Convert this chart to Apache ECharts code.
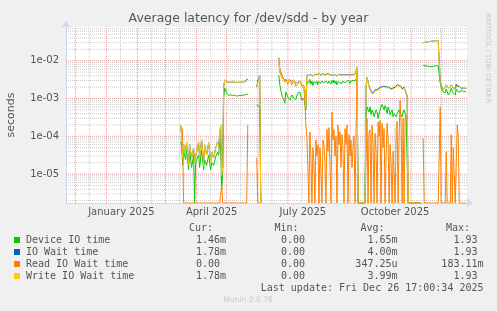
<!DOCTYPE html>
<html><head><meta charset="utf-8">
<script src="https://cdn.jsdelivr.net/npm/echarts@6/dist/echarts.min.js"></script>
<style>html,body{margin:0;padding:0;background:#f0f0f0;}#c{width:497px;height:311px;}</style>
</head><body><div id="c"></div>
<script>
// ---- data ----
const dates = [
 '2025-03-16','2025-03-17','2025-03-18','2025-03-19','2025-03-21','2025-03-22','2025-03-24','2025-03-25','2025-03-27','2025-03-29','2025-03-30','2025-03-31',
 '2025-04-01','2025-04-03','2025-04-04','2025-04-06','2025-04-08','2025-04-09','2025-04-11','2025-04-13','2025-04-15','2025-04-16','2025-04-18','2025-04-20','2025-04-22','2025-04-23','2025-04-24','2025-04-25','2025-04-26','2025-04-27','2025-04-28','2025-04-29',
 '2025-05-01','2025-05-03','2025-05-05','2025-05-07','2025-05-09','2025-05-11','2025-05-13','2025-05-15','2025-05-17','2025-05-19','2025-05-21','2025-05-22',
 '2025-05-23',
 '2025-05-31','2025-06-01','2025-06-03','2025-06-04','2025-06-05',
 '2025-06-22','2025-06-23','2025-06-25','2025-06-27','2025-06-28','2025-06-29','2025-07-01','2025-07-03','2025-07-05','2025-07-07','2025-07-09','2025-07-11','2025-07-13','2025-07-15','2025-07-17','2025-07-18','2025-07-19','2025-07-20',
 '2025-07-21','2025-07-22','2025-07-23','2025-07-24','2025-07-25','2025-07-26','2025-07-27','2025-07-28','2025-07-29','2025-07-30','2025-07-31',
 '2025-08-01','2025-08-02','2025-08-03','2025-08-04','2025-08-05','2025-08-06','2025-08-07','2025-08-08','2025-08-09','2025-08-10',
 '2025-08-11','2025-08-12','2025-08-13','2025-08-14','2025-08-15','2025-08-16','2025-08-17','2025-08-18','2025-08-19','2025-08-20',
 '2025-08-21','2025-08-22','2025-08-23','2025-08-24','2025-08-25','2025-08-26','2025-08-27','2025-08-28','2025-08-29','2025-08-30','2025-08-31',
 '2025-09-01','2025-09-02','2025-09-03','2025-09-04','2025-09-05','2025-09-06','2025-09-07','2025-09-08',
 '2025-09-09','2025-09-16',
 '2025-09-17','2025-09-18','2025-09-19','2025-09-20','2025-09-21','2025-09-22','2025-09-23','2025-09-24','2025-09-25','2025-09-26','2025-09-27','2025-09-28','2025-09-29','2025-09-30',
 '2025-10-01','2025-10-02','2025-10-03','2025-10-04','2025-10-05','2025-10-06','2025-10-07','2025-10-08','2025-10-09','2025-10-10',
 '2025-10-11','2025-10-12','2025-10-13','2025-10-14','2025-10-15','2025-10-16','2025-10-17','2025-10-18','2025-10-19','2025-10-20',
 '2025-10-21','2025-10-22','2025-10-23','2025-10-24','2025-10-25','2025-10-26','2025-10-27','2025-10-28',
 '2025-10-29','2025-11-11','2025-11-12',
 '2025-11-13','2025-11-14','2025-11-17','2025-11-20','2025-11-23','2025-11-26','2025-11-28','2025-11-29','2025-11-30',
 '2025-12-01','2025-12-03','2025-12-05','2025-12-06','2025-12-07','2025-12-08','2025-12-10','2025-12-11','2025-12-12','2025-12-13',
 '2025-12-15','2025-12-16','2025-12-17','2025-12-18','2025-12-19','2025-12-20','2025-12-21','2025-12-23','2025-12-25','2025-12-26'
];

const deviceIO = [
 7.1e-5,5.9e-5,1.7e-5,4.3e-5,2.4e-5,4.3e-5,1.3e-5,4.3e-5,1.5e-5,3.2e-5,0,2.0e-5,
 2.4e-5,3.2e-5,1.5e-5,4.3e-5,1.3e-5,2.4e-5,1.7e-5,3.2e-5,1.3e-5,2.0e-5,1.7e-5,2.9e-5,3.8e-5,3.2e-5,7.1e-5,5.9e-5,3.8e-6,1.0e-5,1.0e-3,1.9e-3,
 1.4e-3,1.2e-3,1.25e-3,1.2e-3,1.24e-3,1.15e-3,1.2e-3,1.2e-3,1.22e-3,1.25e-3,1.3e-3,1.3e-3,
 null,
 6.7e-4,6.5e-4,6.0e-4,0,null,
 4.2e-3,2.3e-3,1.24e-3,9.1e-4,7.5e-4,1.49e-3,1.1e-3,9.1e-4,1.24e-3,1.0e-3,9.5e-4,1.4e-3,1.49e-3,9.1e-4,1.0e-3,9.1e-4,5.0e-4,2.8e-3,
 2.9e-3,2.6e-3,3.2e-3,2.4e-3,2.9e-3,2.2e-3,2.8e-3,3.1e-3,2.5e-3,2.9e-3,
 2.3e-3,2.8e-3,3.0e-3,2.5e-3,2.9e-3,3.2e-3,2.6e-3,2.4e-3,2.9e-3,3.1e-3,
 2.5e-3,2.9e-3,2.8e-3,2.4e-3,3.0e-3,2.6e-3,3.1e-3,2.5e-3,2.9e-3,2.3e-3,
 2.8e-3,3.0e-3,2.6e-3,2.9e-3,2.5e-3,2.9e-3,3.1e-3,2.6e-3,2.4e-3,2.9e-3,
 2.8e-3,3.0e-3,2.5e-3,2.9e-3,2.6e-3,3.0e-3,2.8e-3,2.9e-3,3.1e-3,3.6e-3,
 0,0,
 3.0e-4,6.0e-4,5.0e-4,4.4e-4,6.0e-4,3.7e-4,5.0e-4,4.4e-4,3.3e-4,4.0e-4,
 5.0e-4,4.4e-4,3.0e-4,4.0e-4,3.7e-4,6.0e-4,7.0e-4,6.0e-4,5.0e-4,6.5e-4,
 5.5e-4,4.0e-4,6.0e-4,5.0e-4,3.7e-4,4.4e-4,5.0e-4,3.3e-4,4.0e-4,3.7e-4,
 3.3e-4,4.0e-4,4.4e-4,5.0e-4,4.0e-4,3.7e-4,3.3e-4,4.4e-4,5.0e-4,4.0e-4,
 3.3e-4,3.0e-4,
 0,0,null,
 7.5e-3,7.4e-3,7.2e-3,6.9e-3,7.1e-3,7.4e-3,7.3e-3,8.0e-3,2.6e-3,
 1.9e-3,1.49e-3,1.4e-3,1.8e-3,1.6e-3,1.24e-3,1.49e-3,1.9e-3,1.6e-3,1.4e-3,
 1.24e-3,1.8e-3,1.6e-3,1.5e-3,1.6e-3,1.5e-3,1.7e-3,1.5e-3,1.55e-3,1.46e-3
];

const ioWait = [
 1.9e-4,1.1e-4,3.0e-5,6.0e-5,3.8e-5,7.1e-5,1.8e-5,6.0e-5,2.7e-5,4.9e-5,2.1e-5,3.0e-5,
 3.8e-5,7.1e-5,2.7e-5,8.0e-5,1.8e-5,5.9e-5,3.2e-5,6.8e-5,2.1e-5,3.8e-5,2.7e-5,4.9e-5,7.1e-5,5.3e-5,1.1e-4,2.0e-4,9.0e-6,1.5e-5,2.0e-3,3.1e-3,
 2.8e-3,2.7e-3,2.7e-3,2.75e-3,2.7e-3,2.65e-3,2.7e-3,2.7e-3,2.7e-3,2.8e-3,3.2e-3,3.2e-3,
 null,
 2.0e-3,3.0e-3,4.0e-3,0,null,
 1.2e-2,5.0e-3,4.0e-3,3.1e-3,3.4e-3,3.0e-3,3.0e-3,3.1e-3,2.8e-3,3.1e-3,2.5e-3,2.7e-3,2.9e-3,2.4e-3,2.1e-3,1.7e-3,6.0e-4,4.2e-3,
 4.3e-3,4.1e-3,4.4e-3,4.2e-3,4.3e-3,4.0e-3,4.2e-3,4.4e-3,4.1e-3,4.3e-3,
 4.2e-3,4.5e-3,4.3e-3,4.1e-3,4.3e-3,4.6e-3,4.4e-3,4.2e-3,4.3e-3,4.5e-3,
 4.1e-3,4.4e-3,4.7e-3,4.2e-3,4.4e-3,4.1e-3,4.4e-3,4.2e-3,4.3e-3,4.0e-3,
 4.2e-3,4.4e-3,4.3e-3,4.2e-3,4.1e-3,4.3e-3,4.4e-3,4.2e-3,4.1e-3,4.3e-3,
 4.3e-3,4.2e-3,4.3e-3,4.3e-3,4.2e-3,4.3e-3,4.3e-3,4.4e-3,4.7e-3,6.6e-3,
 0,0,
 2.1e-3,3.6e-3,3.2e-3,2.1e-3,1.8e-3,1.6e-3,1.4e-3,1.3e-3,1.5e-3,1.7e-3,
 1.6e-3,1.7e-3,1.8e-3,1.9e-3,1.7e-3,2.0e-3,2.2e-3,2.1e-3,2.3e-3,2.1e-3,
 2.2e-3,2.0e-3,2.1e-3,2.0e-3,1.9e-3,1.8e-3,2.0e-3,1.9e-3,1.8e-3,2.0e-3,
 2.1e-3,2.3e-3,2.1e-3,2.2e-3,2.4e-3,2.1e-3,1.8e-3,1.9e-3,2.0e-3,1.6e-3,
 1.5e-3,1.2e-3,
 0,0,null,
 3.0e-2,3.05e-2,3.15e-2,3.25e-2,3.3e-2,3.4e-2,3.4e-2,3.6e-2,2.8e-3,
 2.3e-3,1.7e-3,2.0e-3,2.3e-3,2.1e-3,1.9e-3,2.0e-3,2.3e-3,2.1e-3,1.9e-3,
 1.7e-3,2.4e-3,2.1e-3,2.3e-3,2.1e-3,2.0e-3,1.85e-3,1.9e-3,1.9e-3,1.78e-3
];

const readWait = [
 2.0e-4,2.0e-4,1.5e-4,0,0,0,0,0,0,0,0,0,
 0,0,0,0,0,0,0,0,0,0,0,0,0,0,0,0,5.0e-6,0,0,0,
 0,0,0,0,0,0,0,0,0,0,0,2.0e-4,
 null,
 2.7e-5,0,0,0,null,
 8.0e-3,6.4e-3,4.2e-3,3.1e-3,2.7e-3,3.3e-3,2.4e-3,3.1e-3,2.3e-3,3.1e-3,2.1e-3,2.4e-3,2.9e-3,2.1e-3,1.8e-3,9.0e-4,2.0e-4,1.0e-4,
 1.1e-4,0,1.3e-4,3e-5,0,5e-5,2e-5,0,8e-5,3e-5,
 6e-5,0,5e-5,1.2e-5,0,8e-5,6e-5,2e-5,0,1.5e-4,
 4e-5,1.7e-4,2e-5,0,4.4e-4,8e-5,1.5e-4,3e-5,1e-4,0,
 2e-4,6e-5,1.3e-4,1.5e-5,1.1e-4,5e-5,0,1.6e-4,6e-5,2e-4,
 0,1.1e-4,3e-5,8e-5,1.5e-5,5e-5,1e-4,0,1e-4,5.5e-3,
 0,0,
 0,3e-4,0,1.3e-4,1.5e-4,0,2e-4,6e-5,0,1.2e-4,
 4e-5,0,2.4e-4,1e-4,2.6e-4,0,2.2e-4,5e-5,1.6e-4,0,
 3e-5,2.2e-4,8e-5,0,6e-5,2e-5,0,4e-5,1e-5,0,
 1.5e-4,2.5e-4,0,1e-4,9e-4,2e-4,0,3e-4,0,3e-4,
 3.5e-4,2.5e-4,
 0,0,null,
 9e-5,0,0,0,0,0,0,0,6e-4,
 0,0,0,4e-5,0,0,0,1.1e-4,0,5e-5,
 0,0,2e-4,1e-4,0,0,0,0,0,0
];

const writeWait = [
 1.9e-4,1.1e-4,2.7e-5,5.9e-5,3.8e-5,7.1e-5,1.7e-5,5.9e-5,2.7e-5,4.9e-5,2.1e-5,3.0e-5,
 3.8e-5,7.1e-5,2.7e-5,8.0e-5,1.7e-5,5.9e-5,3.2e-5,6.8e-5,2.1e-5,3.8e-5,2.7e-5,4.9e-5,7.1e-5,5.3e-5,1.1e-4,2.0e-4,9.0e-6,1.5e-5,2.0e-3,3.1e-3,
 2.8e-3,2.7e-3,2.7e-3,2.75e-3,2.7e-3,2.65e-3,2.7e-3,2.7e-3,2.7e-3,2.8e-3,2.9e-3,2.9e-3,
 null,
 2.0e-3,2.6e-3,3.8e-3,0,null,
 1.25e-2,4.9e-3,3.5e-3,3.1e-3,2.9e-3,2.7e-3,3.1e-3,2.9e-3,2.7e-3,3.1e-3,2.4e-3,2.7e-3,2.9e-3,2.4e-3,2.1e-3,1.7e-3,6.0e-4,4.2e-3,
 4.2e-3,4.0e-3,4.3e-3,4.1e-3,4.2e-3,3.9e-3,4.1e-3,4.3e-3,4.0e-3,4.2e-3,
 4.1e-3,4.4e-3,4.2e-3,4.0e-3,4.2e-3,4.5e-3,4.3e-3,4.1e-3,4.2e-3,4.4e-3,
 4.0e-3,4.3e-3,4.6e-3,4.1e-3,4.2e-3,4.0e-3,4.3e-3,4.1e-3,4.2e-3,3.9e-3,
 4.1e-3,4.3e-3,4.2e-3,4.1e-3,4.0e-3,4.2e-3,4.3e-3,4.1e-3,4.0e-3,4.2e-3,
 4.2e-3,4.1e-3,4.2e-3,4.2e-3,4.1e-3,4.2e-3,4.2e-3,4.3e-3,4.6e-3,6.4e-3,
 0,0,
 2.0e-3,3.5e-3,3.1e-3,2.0e-3,1.7e-3,1.5e-3,1.3e-3,1.2e-3,1.4e-3,1.6e-3,
 1.5e-3,1.6e-3,1.7e-3,1.8e-3,1.6e-3,1.9e-3,2.1e-3,2.0e-3,2.2e-3,2.0e-3,
 2.1e-3,1.9e-3,2.0e-3,1.9e-3,1.8e-3,1.7e-3,1.9e-3,1.8e-3,1.7e-3,1.9e-3,
 2.0e-3,2.2e-3,2.0e-3,2.1e-3,2.3e-3,2.0e-3,1.7e-3,1.8e-3,1.9e-3,1.5e-3,
 1.4e-3,1.1e-3,
 0,0,null,
 3.0e-2,3.05e-2,3.15e-2,3.25e-2,3.3e-2,3.4e-2,3.4e-2,3.6e-2,2.6e-3,
 2.3e-3,1.68e-3,2.0e-3,2.3e-3,2.1e-3,1.9e-3,2.0e-3,2.3e-3,2.1e-3,1.9e-3,
 1.68e-3,2.0e-3,2.1e-3,2.3e-3,2.1e-3,2.0e-3,1.85e-3,1.9e-3,1.9e-3,1.78e-3
];

const seriesNames = ['Device IO time','IO Wait time','Read IO Wait time','Write IO Wait time'];
const seriesColors = ['#00cc00','#0066b3','#ff8000','#ffcc00'];
const curVals = ['1.46m','1.78m','0.00 ','1.78m'];
const minVals = ['0.00 ','0.00 ','0.00 ','0.00 '];
const avgVals = ['1.65m','4.00m','347.25u','3.99m'];
const maxVals = ['1.93 ','1.93 ','183.11m','1.93 '];
const yTickValues = [1e-5,1e-4,1e-3,1e-2];
const yTickLabels = ['1e-05','1e-04','1e-03','1e-02'];
const xLabelDates = ['2025-01-16','2025-04-16','2025-07-16','2025-10-16'];
const xLabelTexts = ['January 2025','April 2025','July 2025','October 2025'];
const majorGridDates = ['2024-12-01','2025-01-01','2025-02-01','2025-03-01','2025-04-01','2025-05-01','2025-06-01','2025-07-01','2025-08-01','2025-09-01','2025-10-01','2025-11-01','2025-12-01'];
const minorGridDates = ['2024-12-15','2025-01-15','2025-02-15','2025-03-15','2025-04-15','2025-05-15','2025-06-15','2025-07-15','2025-08-15','2025-09-15','2025-10-15','2025-11-15','2025-12-15'];
const majorGridValues = [1e-5,1e-4,1e-3,1e-2];
const minorGridValues = [2e-6,3e-6,4e-6,5e-6,6e-6,7e-6,8e-6,9e-6,2e-5,3e-5,4e-5,5e-5,6e-5,7e-5,8e-5,9e-5,2e-4,3e-4,4e-4,5e-4,6e-4,7e-4,8e-4,9e-4,2e-3,3e-3,4e-3,5e-3,6e-3,7e-3,8e-3,9e-3,2e-2,3e-2,4e-2,5e-2,6e-2,7e-2];
const xStart = '2024-11-21 17:00:34';
const xEnd = '2025-12-26 17:00:34';
const yMin = 1.72e-6, yMax = 0.078;
const lastUpdate = 'Last update: Fri Dec 26 17:00:34 2025';

// ---- chart ----
const chart = echarts.init(document.getElementById('c'), null, {renderer:'canvas'});
const seriesArrays = [deviceIO, ioWait, readWait, writeWait];
const toPlot = v => (v === null ? '-' : (v <= 0 ? yMin : v));
const FONT = '"DejaVu Sans", sans-serif';
const MONO = '"DejaVu Sans Mono", monospace';
const TXT = '#555';

const dataSeries = seriesArrays.map((arr, k) => ({
  name: seriesNames[k], type: 'line', showSymbol: false, symbol: 'none',
  connectNulls: false, z: 3, animation: false,
  lineStyle: {width: 1, color: seriesColors[k]}, itemStyle: {color: seriesColors[k]},
  data: dates.map((d, i) => [d, toPlot(arr[i])])
}));

// grid lines drawn as broken line series through the axes' scales
function gridSeries(xs, ys, color) {
  const data = [];
  xs.forEach(d => { data.push([d, yMin], [d, yMax], [d, '-']); });
  ys.forEach(v => { data.push([xStart, v], [xEnd, v], [xEnd, '-']); });
  return {
    type: 'line', data: data, z: 1, silent: true, animation: false, showSymbol: false, symbol: 'none',
    connectNulls: false, clip: false,
    lineStyle: {color: color, width: 1, type: [1, 1]}
  };
}

const L = [];
const rowY = [240, 252, 264, 276];
seriesNames.forEach((n, i) => {
  L.push({type:'rect', shape:{x:14, y:rowY[i]-3, width:6, height:6}, style:{fill:seriesColors[i]}});
  L.push({type:'text', x:26, y:rowY[i], style:{text:n, font:'10px '+MONO, fill:TXT, verticalAlign:'middle'}});
  [[curVals,226],[minVals,311],[avgVals,397.5],[maxVals,483.5]].forEach(([a, xr]) => {
    L.push({type:'text', x:xr, y:rowY[i], style:{text:a[i], font:'10px '+MONO, fill:TXT, align:'right', verticalAlign:'middle'}});
  });
});
[['Cur:',213],['Min:',298.5],['Avg:',384.5],['Max:',470]].forEach(([t, xr]) => {
  L.push({type:'text', x:xr, y:228, style:{text:t, font:'10px '+MONO, fill:TXT, align:'right', verticalAlign:'middle'}});
});
L.push({type:'text', x:483.5, y:288, style:{text:lastUpdate, font:'10px '+MONO, fill:TXT, align:'right', verticalAlign:'middle'}});
L.push({type:'text', x:248, y:300, style:{text:'Munin 2.0.76', font:'7.6px '+FONT, fill:'#c8c8c8', align:'center', verticalAlign:'middle'}});
L.push({type:'text', x:11, y:115, rotation:Math.PI/2, style:{text:'seconds', font:'11px '+FONT, fill:TXT, align:'center', verticalAlign:'middle'}});
L.push({type:'text', x:487.5, y:58, rotation:-Math.PI/2, style:{text:'RRDTOOL / TOBI OETIKER', font:'7px '+FONT, fill:'#c8c8c8', align:'center', verticalAlign:'middle'}});

chart.setOption({
  backgroundColor: '#f0f0f0',
  animation: false,
  title: {text: 'Average latency for /dev/sdd - by year', left: 'center', top: 12, padding: 0,
    textStyle: {fontSize: 12.5, fontWeight: 'normal', color: TXT, fontFamily: FONT}},
  grid: {left: 66, right: 30, top: 27, bottom: 108, show: true, backgroundColor: '#ffffff', borderWidth: 0, containLabel: false},
  xAxis: {
    type: 'time', min: xStart, max: xEnd,
    axisLine: {show: true, onZero: false, lineStyle: {color: '#CFD6F8', width: 1}, symbol: ['none', 'arrow'], symbolSize: [7, 7], symbolOffset: [0, 6]},
    axisTick: {show: false}, splitLine: {show: false},
    axisLabel: {show: false}
  },
  yAxis: {
    type: 'log', logBase: 10, min: yMin, max: yMax,
    axisLine: {show: true, lineStyle: {color: '#CFD6F8', width: 1}, symbol: ['none', 'arrow'], symbolSize: [7, 7], symbolOffset: [0, 6]},
    axisTick: {show: false}, splitLine: {show: false},
    axisLabel: {
      showMinLabel: false, showMaxLabel: false,
      formatter: v => { const i = yTickValues.findIndex(t => Math.abs(Math.log10(t) - Math.log10(v)) < 1e-6); return i >= 0 ? yTickLabels[i] : ''; },
      fontSize: 10, color: TXT, fontFamily: FONT, margin: 7
    }
  },
  graphic: L,
  series: [gridSeries(minorGridDates, minorGridValues, '#cccccc'), gridSeries(majorGridDates, majorGridValues, '#e49a9a')].concat(dataSeries)
});

// x-axis month labels placed through the time scale
const xl = xLabelDates.map((d, i) => {
  const p = chart.convertToPixel({gridIndex: 0}, [d, yMin]);
  return {type:'text', x:p[0], y:p[1] + 9, style:{text:xLabelTexts[i], font:'10px '+FONT, fill:TXT, align:'center', verticalAlign:'middle'}};
});
chart.setOption({graphic: L.concat(xl)});
</script>
</body></html>
